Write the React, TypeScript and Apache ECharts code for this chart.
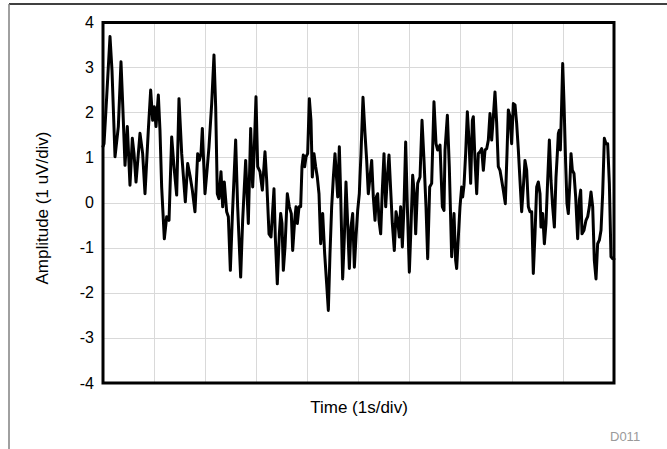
import React, { useEffect, useRef } from "react";
import * as echarts from "echarts";

// Noise trace: sample times (s) and amplitudes (uV)
const times: number[] = [
  0, 0.02, 0.072, 0.137, 0.176, 0.235, 0.3, 0.352, 0.385, 0.431, 0.476, 0.528, 0.574, 0.607, 0.646,
  0.724, 0.776, 0.822, 0.887, 0.933, 0.972, 1.005, 1.037, 1.083, 1.115, 1.148, 1.2, 1.246, 1.292,
  1.344, 1.389, 1.442, 1.487, 1.54, 1.611, 1.657, 1.703, 1.748, 1.8, 1.853, 1.885, 1.918, 1.944,
  1.963, 1.996, 2.042, 2.074, 2.127, 2.172, 2.205, 2.237, 2.27, 2.309, 2.342, 2.374, 2.42, 2.453,
  2.492, 2.531, 2.596, 2.635, 2.694, 2.733, 2.792, 2.844, 2.89, 2.929, 2.955, 2.994, 3.027, 3.072,
  3.118, 3.17, 3.203, 3.249, 3.288, 3.333, 3.346, 3.372, 3.411, 3.451, 3.477, 3.503, 3.529, 3.562,
  3.607, 3.646, 3.685, 3.712, 3.751, 3.777, 3.803, 3.836, 3.868, 3.894, 3.92, 3.946, 3.973, 4.005,
  4.038, 4.07, 4.096, 4.129, 4.162, 4.194, 4.227, 4.26, 4.299, 4.338, 4.377, 4.41, 4.442, 4.475,
  4.508, 4.54, 4.573, 4.593, 4.625, 4.651, 4.69, 4.723, 4.755, 4.788, 4.821, 4.853, 4.886, 4.919,
  4.951, 4.984, 5.016, 5.029, 5.049, 5.088, 5.127, 5.16, 5.192, 5.225, 5.258, 5.29, 5.323, 5.349,
  5.375, 5.401, 5.434, 5.466, 5.499, 5.532, 5.564, 5.597, 5.63, 5.662, 5.701, 5.734, 5.767, 5.799,
  5.825, 5.858, 5.89, 5.923, 5.956, 5.995, 6.027, 6.06, 6.093, 6.119, 6.158, 6.204, 6.243, 6.282,
  6.321, 6.354, 6.393, 6.432, 6.477, 6.517, 6.549, 6.595, 6.641, 6.673, 6.693, 6.739, 6.777, 6.823,
  6.869, 6.901, 6.921, 6.954, 6.986, 7.019, 7.039, 7.065, 7.097, 7.13, 7.162, 7.195, 7.228, 7.247,
  7.28, 7.313, 7.345, 7.378, 7.41, 7.443, 7.476, 7.508, 7.541, 7.573, 7.606, 7.639, 7.671, 7.704,
  7.736, 7.769, 7.802, 7.834, 7.873, 7.906, 7.932, 7.965, 7.997, 8.03, 8.063, 8.095, 8.128, 8.16,
  8.193, 8.226, 8.258, 8.291, 8.324, 8.356, 8.389, 8.421, 8.454, 8.487, 8.519, 8.552, 8.571, 8.604,
  8.637, 8.669, 8.702, 8.735, 8.767, 8.8, 8.833, 8.865, 8.891, 8.911, 8.93, 8.95, 8.976, 8.996,
  9.022, 9.054, 9.08, 9.106, 9.139, 9.159, 9.185, 9.217, 9.25, 9.289, 9.322, 9.348, 9.374, 9.413,
  9.452, 9.485, 9.517, 9.55, 9.583, 9.615, 9.648, 9.68, 9.713, 9.746, 9.778, 9.811, 9.843, 9.876,
  9.909, 9.941, 9.974, 10,
];

const amplitudes: number[] = [
  1.25, 1.31, 2.35, 3.69, 2.94, 1.02, 1.69, 3.13, 2.2, 0.83, 1.69, 0.39, 1.43, 1.09, 0.46,
  1.54, 1.09, 0.2, 1.61, 2.5, 1.83, 2.13, 1.69, 2.39, 1.61, 0.35, -0.8, -0.31, -0.39,
  1.46, 0.8, 0.17, 2.31, 1.09, 0.02, 0.87, 0.6, 0.28, -0.2, 1.09, 0.94, 1.09, 1.65,
  1.09, 0.2, 0.8, 1.24, 2.2, 3.28, 2.13, 0.2, 0.09, 0.69, -0.09, 0.46, -0.2, -0.31,
  -1.5, -0.31, 1.39, -0.09, -1.65, -0.39, 0.94, -0.46, 1.65, 0.35, 1.02, 2.35, 0.8, 0.69,
  0.28, 1.13, 0.5, -0.69, -0.76, 0.06, 0.31, -0.76, -1.8, -0.69, -0.24, -0.46, -1.5, -0.98,
  0.2, -0.09, -0.24, -1.06, -0.39, -0.09, -0.46, -0.09, -0.09, 0.8, 1.06, 0.8, 1.02, 1.09,
  2.31, 1.83, 0.57, 1.09, 0.8, 0.57, 0.2, -0.91, -0.24, -1.13, -1.8, -2.39, -1.13, -0.09,
  0.57, 1.09, 0.5, 0.13, 1.24, 0.2, -1.69, -0.76, 0.46, -0.46, -1.46, -0.54, -0.24, -1.43,
  -0.76, -0.17, 0.2, 0.57, 1.09, 2.34, 1.54, 0.94, 0.2, 0.57, 0.94, 0.13, -0.39, 0.13,
  0.2, -0.39, -0.69, 0.28, 1.09, -0.09, 0.57, 1.06, 0.28, -0.46, -1.06, -0.2, -0.39, -0.76,
  -0.09, -0.98, -0.09, 1.35, -0.09, -1.54, -0.54, 0.61, 0.2, -0.69, 0.43, 0.57, 1.83, 0.94,
  -0.09, -1.24, 0.35, 0.43, 2.24, 1.31, 1.17, 1.28, -0.09, -0.17, 1.17, 1.94, 0.8, -1.2,
  -0.24, -1.28, -1.46, -0.76, -0.09, 0.35, 0.13, 0.39, 1.09, 2.02, 1.39, 0.43, 1.83, 1.91,
  0.94, 0.2, 1.09, 1.13, 1.2, 0.72, 1.17, 1.2, 1.39, 1.98, 1.39, 1.91, 2.46, 1.76,
  0.8, 0.72, 0.5, 0.28, -0.02, 1.09, 2.06, 1.91, 1.31, 2.2, 2.17, 1.76, 1.17, 0.5,
  -0.2, 0.35, 0.94, 0.72, -0.09, -0.2, -0.2, -1.57, -0.69, 0.35, 0.46, 0.2, -0.54, -0.24,
  -0.91, -0.46, 0.5, 1.39, 0.5, -0.09, -0.54, 0.57, 1.09, 1.54, 1.61, 1.17, 2.2, 3.09,
  2.2, 0.87, -0.02, -0.24, 0.5, 1.09, 0.72, 0.65, 0.13, -0.8, 0.06, 0.28, -0.69, -0.61,
  -0.39, -0.31, -0.09, 0.24, -0.09, -1.28, -1.69, -0.91, -0.83, -0.61, 0.2, 1.43, 1.31, 1.31,
  0.43, -1.2, -1.24, -1.25,
];

const yTicks = { min: -4, max: 4, step: 1 };
const xTicks = { min: 0, max: 10, step: 1 };

const yTitle = "Amplitude (1 uV/div)";
const xTitle = "Time (1s/div)";
const figureId = "D011";

const FONT = "'Liberation Sans', Arial, Helvetica, sans-serif";

export default function App() {
  const ref = useRef<HTMLDivElement>(null);

  useEffect(() => {
    if (!ref.current) return;
    const chart = echarts.init(ref.current, null, { renderer: "svg" });
    const points = times.map((t, i) => [t, amplitudes[i]]);

    chart.setOption({
      animation: false,
      backgroundColor: "#ffffff",
      grid: {
        left: 103,
        right: 53,
        top: 22.5,
        bottom: 66,
        show: true,
        borderColor: "#000000",
        borderWidth: 3,
        backgroundColor: "transparent",
        z: 3,
      },
      xAxis: {
        type: "value",
        min: xTicks.min,
        max: xTicks.max,
        interval: xTicks.step,
        axisLine: { show: false },
        axisTick: { show: false },
        axisLabel: { show: false },
        splitLine: { show: true, lineStyle: { color: "#d9d9d9", width: 1 } },
      },
      yAxis: {
        type: "value",
        min: yTicks.min,
        max: yTicks.max,
        interval: yTicks.step,
        axisLine: { show: false },
        axisTick: { show: false },
        axisLabel: {
          show: true,
          margin: 9,
          color: "#000000",
          fontSize: 16,
          fontFamily: FONT,
        },
        splitLine: { show: true, lineStyle: { color: "#d9d9d9", width: 1 } },
      },
      series: [
        {
          type: "line",
          data: points,
          showSymbol: false,
          symbol: "none",
          clip: true,
          z: 2,
          lineStyle: { color: "#000000", width: 3, join: "round", cap: "round" },
        },
      ],
      graphic: [
        {
          type: "line",
          shape: { x1: 9, y1: 4, x2: 667, y2: 4 },
          style: { stroke: "#000000", lineWidth: 1.3 },
          silent: true,
        },
        {
          type: "line",
          shape: { x1: 9, y1: 4, x2: 9, y2: 449 },
          style: { stroke: "#808080", lineWidth: 1.5 },
          silent: true,
        },
        {
          type: "text",
          x: 42,
          y: 208,
          rotation: Math.PI / 2,
          style: {
            text: yTitle,
            fill: "#000000",
            fontSize: 17,
            fontFamily: FONT,
            align: "center",
            verticalAlign: "middle",
          },
        },
        {
          type: "text",
          x: 359,
          y: 407,
          style: {
            text: xTitle,
            fill: "#000000",
            fontSize: 17,
            fontFamily: FONT,
            align: "center",
            verticalAlign: "middle",
          },
        },
        {
          type: "text",
          x: 610,
          y: 436,
          style: {
            text: figureId,
            fill: "#9a9a9a",
            fontSize: 13,
            fontFamily: FONT,
            align: "left",
            verticalAlign: "middle",
          },
        },
      ],
    });

    return () => chart.dispose();
  }, []);

  return (
    <div
      ref={ref}
      style={{ position: "fixed", left: 0, top: 0, width: 667, height: 449 }}
    />
  );
}
